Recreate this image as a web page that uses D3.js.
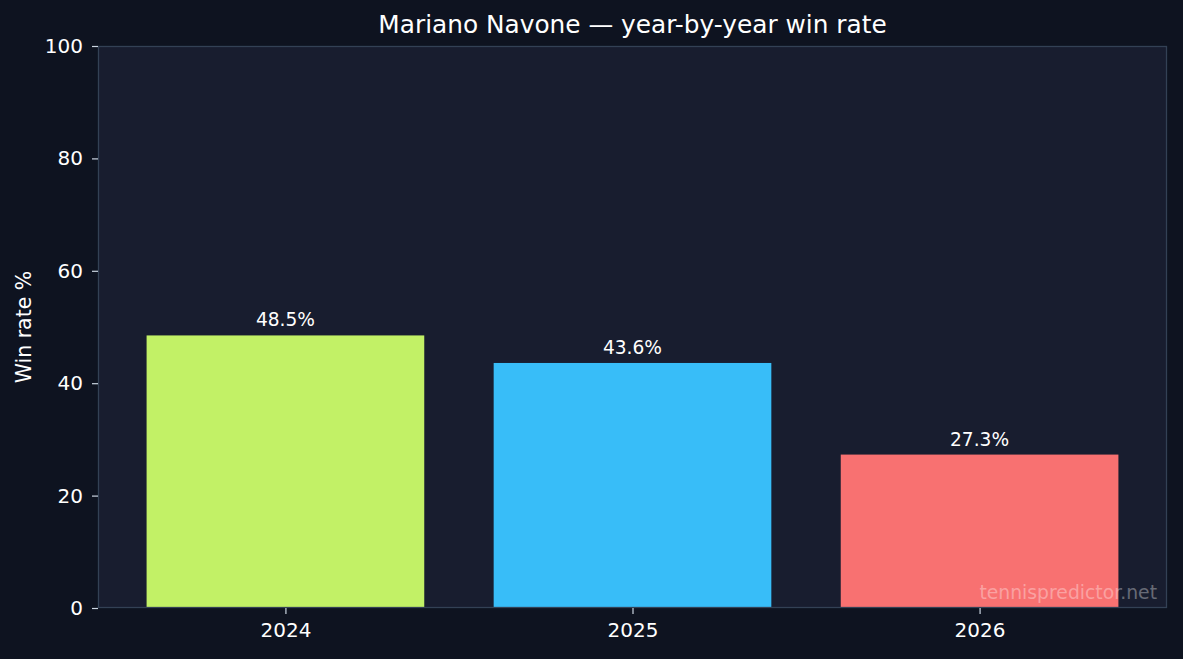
<!doctype html>
<html>
<head>
<script src="https://cdn.jsdelivr.net/npm/d3@7"></script>
<style>
  body { margin: 0; background: #0e1320; }
  svg { display: block; font-family: "DejaVu Sans", sans-serif; }
</style>
</head>
<body>
<svg width="1183" height="659"></svg>
<script>
var years = ["2024", "2025", "2026"];
var winRates = [48.5, 43.6, 27.3];
var barColors = ["#c2f166", "#38bdf8", "#f87171"];
var yTicks = [0, 20, 40, 60, 80, 100];

var svg = d3.select("svg");
var plotL = 98, plotR = 1167, plotT = 46, plotB = 608;

svg.append("rect").attr("width", 1183).attr("height", 659).attr("fill", "#0e1320");
svg.append("rect")
  .attr("x", plotL).attr("y", plotT)
  .attr("width", plotR - plotL).attr("height", plotB - plotT)
  .attr("fill", "#181d2f");

// category positions like matplotlib: index 0..2, width 0.8, margin 0.05
var x = d3.scaleLinear().domain([-0.54, 2.54]).range([plotL, plotR]);
var y = d3.scaleLinear().domain([0, 100]).range([plotB, plotT]);
var barW = x(0.8) - x(0);

svg.selectAll("rect.bar")
  .data(winRates)
  .enter().append("rect")
  .attr("class", "bar")
  .attr("x", (d, i) => x(i) - barW / 2)
  .attr("y", d => y(d))
  .attr("width", barW)
  .attr("height", d => y(0) - y(d))
  .attr("fill", (d, i) => barColors[i]);

svg.selectAll("text.val")
  .data(winRates)
  .enter().append("text")
  .attr("class", "val")
  .attr("x", (d, i) => x(i))
  .attr("y", d => y(d) - 9)
  .attr("text-anchor", "middle")
  .attr("fill", "#ffffff")
  .attr("font-size", 18.6)
  .text(d => d.toFixed(1) + "%");

// frame
svg.append("rect")
  .attr("x", plotL + 0.5).attr("y", plotT + 0.5)
  .attr("width", plotR - plotL - 1).attr("height", plotB - plotT - 1)
  .attr("fill", "none").attr("stroke", "#334155").attr("stroke-width", 1.3);

// y axis
var yAxis = d3.axisLeft(y).tickValues(yTicks).tickSize(6).tickPadding(9);
var gy = svg.append("g").attr("transform", "translate(" + plotL + ",0)").call(yAxis);
gy.select(".domain").remove();
gy.selectAll("line").attr("stroke", "#cbd5e1").attr("stroke-width", 1.2);
gy.selectAll("text").attr("fill", "#ffffff").attr("font-size", 20)
  .attr("font-family", "DejaVu Sans");

// x axis
var xAxis = d3.axisBottom(x).tickValues([0, 1, 2]).tickFormat(i => years[i]).tickSize(6).tickPadding(9);
var gx = svg.append("g").attr("transform", "translate(0," + plotB + ")").call(xAxis);
gx.select(".domain").remove();
gx.selectAll("line").attr("stroke", "#cbd5e1").attr("stroke-width", 1.2);
gx.selectAll("text").attr("fill", "#ffffff").attr("font-size", 20)
  .attr("font-family", "DejaVu Sans");

// title
svg.append("text")
  .attr("x", (plotL + plotR) / 2).attr("y", 33)
  .attr("text-anchor", "middle")
  .attr("fill", "#ffffff")
  .attr("font-size", 24.8)
  .text("Mariano Navone \u2014 year-by-year win rate");

// y label
svg.append("text")
  .attr("transform", "translate(31," + (plotT + plotB) / 2 + ") rotate(-90)")
  .attr("text-anchor", "middle")
  .attr("fill", "#ffffff")
  .attr("font-size", 20.5)
  .text("Win rate %");

// watermark
svg.append("text")
  .attr("x", plotR - 10).attr("y", plotB - 9)
  .attr("text-anchor", "end")
  .attr("fill", "#ffffff")
  .attr("fill-opacity", 0.35)
  .attr("font-size", 18.8)
  .text("tennispredictor.net");
</script>
</body>
</html>
